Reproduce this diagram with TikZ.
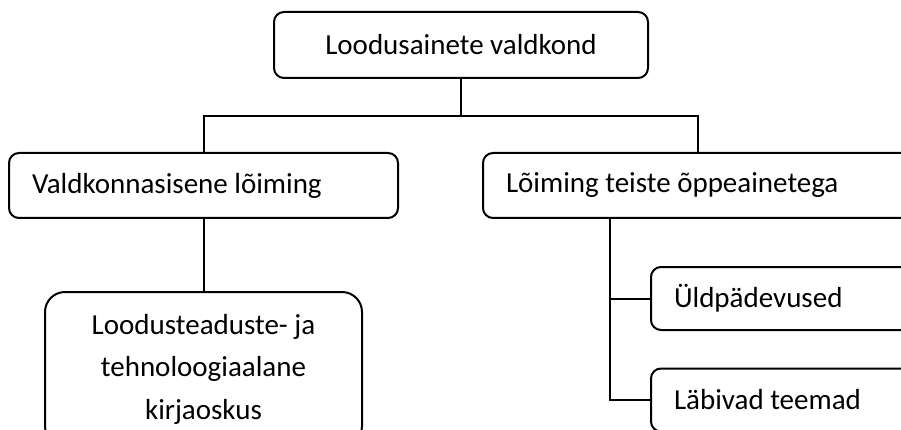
\documentclass[tikz,border=0pt]{standalone}
\usepackage{fontspec}
\setmainfont{Carlito}
\begin{document}
\begin{tikzpicture}[x=1pt,y=-1pt,line width=2pt,
  font=\fontsize{29}{42.5}\selectfont,
  box/.style={draw,rounded corners=10pt,inner sep=0pt},
  sidebox/.style={box,align=flush left,inner xsep=23pt}]
	%%
	\useasboundingbox (0,0) rectangle (901,430);
	\clip (0,0) rectangle (901,430);
	\node (Valdkond) at (461,45) [box,minimum width=374pt,minimum height=66pt] {Loodusainete valdkond};
	\node (Sisene) at (203.5,185.5) [sidebox,text width=343pt,minimum height=65pt] {Valdkonnasisene lõiming};
	\node (Teised) at (698,185.5) [sidebox,text width=384pt,minimum height=65pt] {Lõiming teiste õppeainetega};
	\node (Kirjaoskus) at (203.5,369) [box,rounded corners=20pt,align=center,minimum width=317pt,minimum height=154pt] {Loodusteaduste- ja\\tehnoloogiaalane\\kirjaoskus};
	\node (Uld) at (805.5,298.5) [sidebox,text width=263pt,minimum height=63pt] {Üldpädevused};
	\node (Labivad) at (805.5,400) [sidebox,text width=263pt,minimum height=63pt] {Läbivad teemad};
	%
	\draw (Valdkond.south) -- ++(0,37) coordinate (jaotus);
	\draw (Sisene.north) |- (jaotus) -| (Teised.north);
	\draw (Sisene.south) -- (Kirjaoskus.north);
	\draw ([xshift=128pt]Teised.south west) |- (Uld.west);
	\draw ([xshift=128pt]Teised.south west) |- (Labivad.west);
	%
\end{tikzpicture}
\end{document}
